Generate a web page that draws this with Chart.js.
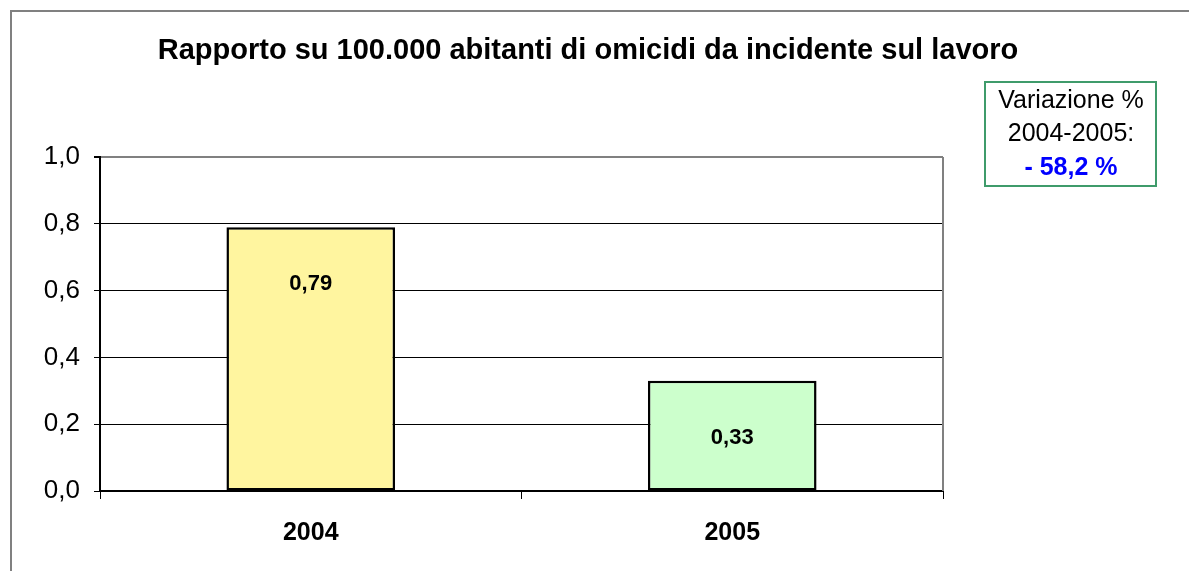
<!DOCTYPE html>
<html>
<head>
<meta charset="utf-8">
<script src="https://cdn.jsdelivr.net/npm/chart.js@4"></script>
<style>
  html, body { margin: 0; padding: 0; background: #fff; }
  #wrap { width: 1189px; height: 571px; position: relative; }
</style>
</head>
<body>
<div id="wrap"><canvas id="chart" width="1189" height="571"></canvas></div>
<script>
const categories = ["2004", "2005"];
const values = [0.79, 0.33];
const barColors = ["#fff59f", "#ccffcc"];
const titleText = "Rapporto su 100.000 abitanti di omicidi da incidente sul lavoro";
const noteLines = ["Variazione %", "2004-2005:", "- 58,2 %"];

const FONT = "'Liberation Sans', Arial, sans-serif";

// outer frame, title and the note box
const decorPlugin = {
  id: "decor",
  beforeDraw: chart => {
    const ctx = chart.ctx;
    ctx.save();
    ctx.fillStyle = "#fff";
    ctx.fillRect(0, 0, chart.width, chart.height);
    ctx.strokeStyle = "#808080";
    ctx.lineWidth = 2;
    ctx.beginPath();
    ctx.moveTo(11, chart.height);
    ctx.lineTo(11, 11);
    ctx.lineTo(chart.width, 11);
    ctx.stroke();
    ctx.restore();
  },
  afterDraw: chart => {
    const ctx = chart.ctx;
    const area = chart.chartArea;
    ctx.save();
    // plot border on the right
    ctx.strokeStyle = "#808080";
    ctx.lineWidth = 2;
    ctx.beginPath();
    ctx.moveTo(area.right, area.top);
    ctx.lineTo(area.right, area.bottom);
    ctx.stroke();

    // title
    ctx.fillStyle = "#000";
    ctx.font = "bold 29px " + FONT;
    ctx.textAlign = "center";
    ctx.textBaseline = "middle";
    ctx.fillText(titleText, 588, 51);

    // note box
    ctx.strokeStyle = "#3f9b6b";
    ctx.lineWidth = 2;
    ctx.strokeRect(985, 82, 171, 104);
    ctx.font = "25px " + FONT;
    ctx.fillText(noteLines[0], 1071, 101);
    ctx.fillText(noteLines[1], 1071, 134);
    ctx.fillStyle = "#0000ff";
    ctx.font = "bold 25px " + FONT;
    ctx.fillText(noteLines[2], 1071, 168);

    // value labels inside bars
    const meta = chart.getDatasetMeta(0);
    ctx.fillStyle = "#000";
    ctx.font = "bold 22px " + FONT;
    meta.data.forEach((bar, i) => {
      const label = values[i].toFixed(2).replace(".", ",");
      ctx.fillText(label, bar.x, bar.y + 57);
    });
    ctx.restore();
  }
};

new Chart(document.getElementById("chart"), {
  type: "bar",
  data: {
    labels: categories,
    datasets: [{
      data: values,
      backgroundColor: barColors,
      borderColor: "#000",
      borderWidth: 2.5,
      borderSkipped: false,
      barPercentage: 0.4,
      categoryPercentage: 1.0
    }]
  },
  options: {
    responsive: false,
    animation: false,
    events: [],
    layout: { padding: { left: 0, top: 157, right: 246, bottom: 0 } },
    plugins: {
      legend: { display: false },
      title: { display: false },
      tooltip: { enabled: false }
    },
    scales: {
      y: {
        min: 0,
        max: 1,
        afterFit: scale => { scale.width = 100; },
        ticks: {
          stepSize: 0.2,
          padding: 14,
          color: "#000",
          font: { family: FONT, size: 26 },
          callback: v => v.toFixed(1).replace(".", ",")
        },
        grid: {
          color: ctx => (ctx.tick && ctx.tick.value === 1 ? "#808080" : "#000"),
          lineWidth: ctx => (ctx.tick && ctx.tick.value === 1 ? 2 : 1),
          tickLength: 6,
          tickColor: "#000"
        },
        border: { color: "#000", width: 2 }
      },
      x: {
        afterFit: scale => { scale.height = 80; },
        ticks: {
          padding: 19,
          color: "#000",
          font: { family: FONT, size: 25, weight: "bold" }
        },
        grid: {
          offset: true,
          drawOnChartArea: false,
          tickLength: 8,
          tickColor: "#000"
        },
        border: { color: "#000", width: 2 }
      }
    }
  },
  plugins: [decorPlugin]
});
</script>
</body>
</html>
